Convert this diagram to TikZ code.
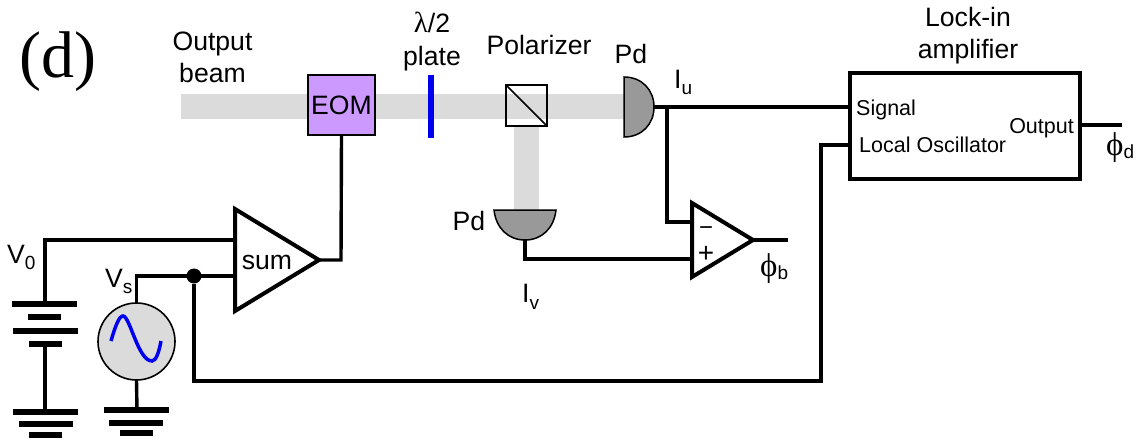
\documentclass[tikz,border=0pt]{standalone}
\usepackage{fontspec}
\setmainfont{Liberation Sans}
\newfontfamily\symfont{Liberation Serif}
\begin{document}
\begin{tikzpicture}[x=1pt,y=-1pt,
  wire/.style={line width=3.4pt,line cap=butt,line join=miter},
  bar/.style={line width=6pt},
  beam/.style={fill=beamgray,draw=none},
  lab/.style={inner sep=0pt,font=\fontsize{26.6}{26.6}\selectfont,anchor=base},
  small/.style={inner sep=0pt,font=\fontsize{21.5}{21.5}\selectfont,anchor=base west},
  box/.style={draw=black,inner sep=0pt,outer sep=0pt}]
\definecolor{beamgray}{gray}{0.86}
\definecolor{eomv}{RGB}{204,153,255}
\definecolor{pdgray}{gray}{0.6}
\definecolor{pblue}{RGB}{0,0,240}
\useasboundingbox (0,0) rectangle (1146,439);
% beams
\fill[beam] (181,94) rectangle (625,119);
\fill[beam] (514,126) rectangle (539,210);
% EOM
\node[box,line width=1.8pt,fill=eomv,minimum width=67pt,minimum height=60pt,font=\fontsize{26.6}{26.6}\selectfont] (eom) at (341.5,105) {EOM};
% plate
\node[fill=pblue,inner sep=0pt,minimum width=6pt,minimum height=63pt] (plate) at (431,106.5) {};
% polarizer
\node[box,line width=1.5pt,minimum width=41pt,minimum height=41pt] (pol) at (526.5,105.5) {};
\draw[line width=1.5pt] (pol.north west) -- (pol.south east);
% photodiodes
\coordinate (pda) at (654,107);
\draw[line width=1.5pt,fill=pdgray] (624,77) .. controls (642,77) and (654,90) .. (pda) .. controls (654,124) and (642,137) .. (624,137) -- cycle;
\coordinate (pdb) at (525,240);
\draw[line width=1.5pt,fill=pdgray] (494,210) .. controls (496,228) and (508,240) .. (pdb) .. controls (542,240) and (554,228) .. (556,210) -- cycle;
% lock-in
\node[box,line width=3.5pt,minimum width=230pt,minimum height=106pt] (lockin) at (965,126) {};
% summing amp
\coordinate (suma) at (235,240);
\coordinate (sumb) at (235,276);
\coordinate (sumout) at (319,260);
\draw[line width=4pt,line join=miter] (235,209) -- (sumout) -- (235,311) -- cycle;
% op-amp
\coordinate (opm) at (692,222);
\coordinate (opp) at (692,259);
\coordinate (opout) at (753,240);
\draw[line width=4pt,line join=miter] (692,203) -- (opout) -- (692,277) -- cycle;
% source
\node[circle,draw=black,line width=1.6pt,fill=beamgray,minimum size=77pt,inner sep=0pt,outer sep=0pt] (src) at (136.5,341.5) {};
\draw[pblue,line width=3.5pt] (111,341) .. controls (115,327) and (119,316) .. (123,316) .. controls (130,316) and (138,361) .. (152,361) .. controls (156,361) and (159,352) .. (161,341);
% junction
\node[circle,fill=black,minimum size=15pt,inner sep=0pt] (jct) at (194,276) {};
% coordinates for free corners and ends
\coordinate (batt) at (45,304);
\coordinate (battlow) at (45,344);
\coordinate (gnda) at (45,412);
\coordinate (gndb) at (137,410);
\coordinate (sigin) at (848,107);
\coordinate (loin) at (848,145);
\coordinate (outl) at (1081,125);
\coordinate (phid) at (1122,125);
\coordinate (phib) at (788,240);
% wires
\draw[wire] (suma) -- (45,240) -- (batt);
\draw[wire] (sumb) -- (136.5,276) -- (src.north);
\draw[wire] (src.south) -- (gndb);
\draw[wire] (battlow) -- (gnda);
\draw[wire] (sumout) -- (341,260) -- (eom.south);
\draw[wire] (pda) -- (sigin);
\draw[wire] (667,107) -- (667,222) -- (opm);
\draw[wire] (pdb) -- (525,259) -- (opp);
\draw[wire] (opout) -- (phib);
\draw[wire] (jct) -- (194,381) -- (821,381) -- (821,145) -- (loin);
\draw[wire] (outl) -- (phid);
% battery
\draw[bar] (12,304) -- (77,304);
\draw[bar] (28,317) -- (61,317);
\draw[bar] (13,330.5) -- (78,330.5);
\draw[bar] (29,344) -- (62,344);
% grounds
\draw[bar] (13,412) -- (78,412);
\draw[bar] (19,424) -- (73,424);
\draw[bar] (29,434.5) -- (62,434.5);
\draw[bar] (104,410) -- (169,410);
\draw[bar] (109,422.5) -- (163,422.5);
\draw[bar] (120,433) -- (153,433);
% text
\node[inner sep=0pt,anchor=base,font=\symfont\fontsize{66}{66}\selectfont] (tag) at (58,77) {(d)};
\node[lab] (t1) at (212.5,50) {Output};
\node[lab] (t2) at (212.5,82) {beam};
\node[lab] (t3) at (432,32) {{\symfont\fontsize{29}{29}\selectfont λ}/2};
\node[lab] (t4) at (432,65) {plate};
\node[lab] (t5) at (539,54) {Polarizer};
\node[lab] (t6) at (631,63) {Pd};
\node[lab] (t7) at (469,230) {Pd};
\node[lab] (t8) at (968,26) {Lock-in};
\node[lab] (t9) at (968,58) {amplifier};
\node[lab] (t10) at (267,269) {sum};
\node[small] (t11) at (856,115) {Signal};
\node[small] (t12) at (859,152) {Local Oscillator};
\node[small,anchor=base east] (t13) at (1074,133) {Output};
\node[lab,anchor=base west] (v0) at (7,263) {V\raisebox{-6pt}{\fontsize{19}{19}\selectfont 0}};
\node[lab,anchor=base west] (vs) at (105,287) {V\raisebox{-6pt}{\fontsize{19}{19}\selectfont s}};
\node[lab,anchor=base west] (iu) at (674,88) {I\raisebox{-6pt}{\fontsize{19}{19}\selectfont u}};
\node[lab,anchor=base west] (iv) at (522,302) {I\raisebox{-7pt}{\fontsize{19}{19}\selectfont v}};
\node[lab,anchor=base west] (pb) at (760,276) {{\symfont\fontsize{33}{33}\selectfont ϕ}\raisebox{-3pt}{\fontsize{19}{19}\selectfont b}};
\node[lab,anchor=base west] (pd) at (1106,155) {{\symfont\fontsize{33}{33}\selectfont ϕ}\raisebox{-3pt}{\fontsize{19}{19}\selectfont d}};
\node[lab] (minus) at (706,235) {\fontsize{24}{24}\selectfont −};
\node[lab] (plus) at (706,262) {\fontsize{28}{28}\selectfont +};
\end{tikzpicture}
\end{document}
